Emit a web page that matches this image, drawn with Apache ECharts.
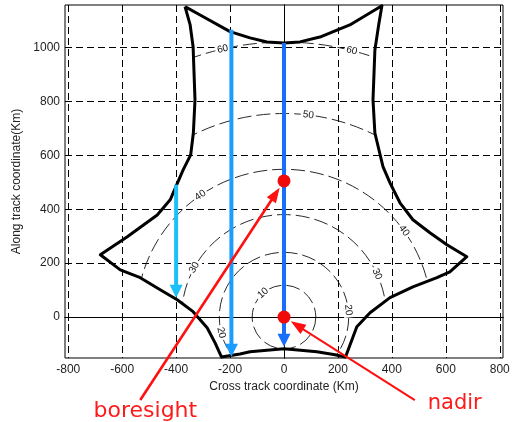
<!DOCTYPE html>
<html>
<head>
<meta charset="utf-8">
<script src="https://cdn.jsdelivr.net/npm/echarts@6/dist/echarts.min.js"></script>
<style>
  html, body { margin: 0; padding: 0; background: #fff; }
  #chart { width: 520px; height: 422px; }
</style>
</head>
<body>
<div id="chart"></div>
<script>
// ---- Data (km) ---------------------------------------------------------
// Swath footprint outline: [cross-track, along-track]
const footprintOutline = [
  [-367, 1152], [-311, 1121], [-200, 1059], [-126, 1036], [-63, 1021], [0, 1017],
  [59, 1021], [133, 1039], [244, 1084], [363, 1155],
  [351, 1084], [337, 991], [330, 806], [337, 683], [367, 558], [393, 498],
  [430, 424], [478, 361], [541, 313], [604, 268], [678, 224],
  [615, 168], [567, 146], [478, 112], [393, 72], [319, 16], [270, -36], [228, -148],
  [189, -140], [122, -129], [0, -118], [-126, -129], [-163, -137], [-232, -148],
  [-256, -95], [-285, -40], [-337, 20], [-396, 64], [-459, 101], [-533, 146],
  [-607, 175], [-681, 231],
  [-581, 298], [-470, 379], [-422, 435], [-374, 546], [-346, 602], [-336, 684],
  [-330, 806], [-337, 1003], [-348, 1084], [-367, 1152]
];

// Incidence-angle contours (deg) and their ground range from nadir (km)
const contourLevels = [10, 20, 30, 40, 50, 60];
const contourRadii  = [118, 240, 380, 548, 755, 1020];

// Scan lines: cross-track position, start and end along-track (km)
const beamX     = [-400, -195, 0];
const beamStart = [491, 1066, 1017];
const beamEnd   = [72, -147, -110];

// Marked points
const boresight = [0, 505];
const nadir     = [0, 0];

// Axis ticks
const xTicks = [-800, -600, -400, -200, 0, 200, 400, 600, 800];
const yTicks = [0, 200, 400, 600, 800, 1000];

// ---- Layout / style ----------------------------------------------------
const FONT = 'Liberation Sans, Arial, sans-serif';
const beamColors = ['#1CC0F8', '#1B9CFF', '#166EFA'];

// where each contour carries its level label [level, x, y] (km)
const contourLabelSpots = [
  [10, -78, 89], [20, -237, -59], [20, 237, 26], [30, -337, 186], [30, 337, 156],
  [40, -311, 453], [40, 437, 315], [50, 89, 742], [60, -229, 1002], [60, 252, 991]
];

// callout arrows: arrow tail and text centre in km (below the axes)
const callouts = [
  { text: 'boresight', target: boresight, tail: [-533, -308], textAt: [-514, -350], width: 2.6, size: 22 },
  { text: 'nadir',     target: nadir,     tail: [485, -308],  textAt: [633, -321],  width: 2,   size: 21 }
];

const chart = echarts.init(document.getElementById('chart'), null, { renderer: 'canvas' });

function sideAxis(pos, ticks, min, max) {
  return {
    type: 'value', min: min, max: max, position: pos,
    axisLine: { show: true, lineStyle: { color: '#000', width: 1 } },
    axisTick: { show: true, inside: true, length: 4, customValues: ticks, lineStyle: { color: '#000' } },
    axisLabel: { show: false },
    splitLine: { show: false }
  };
}

const option = {
  animation: false,
  grid: { left: 65, top: 5, width: 438, height: 353, show: true, borderColor: '#000', borderWidth: 1 },
  xAxis: [
    {
      type: 'value', min: -812, max: 812, position: 'bottom',
      name: 'Cross track coordinate (Km)', nameLocation: 'middle', nameGap: 23,
      nameTextStyle: { color: '#222', fontSize: 12, fontFamily: FONT },
      axisLine: { show: true, lineStyle: { color: '#000', width: 1 } },
      axisTick: { show: true, inside: true, length: 4, customValues: xTicks, lineStyle: { color: '#000' } },
      axisLabel: { customValues: xTicks, color: '#222', fontSize: 12, fontFamily: FONT, margin: 6,
                   formatter: v => String(v) },
      splitLine: { show: true, lineStyle: { color: '#000', width: 1, type: [7, 4] } }
    },
    sideAxis('top', xTicks, -812, 812)
  ],
  yAxis: [
    {
      type: 'value', min: -152, max: 1158, position: 'left',
      name: 'Along track coordinate(Km)', nameLocation: 'middle', nameGap: 41,
      nameTextStyle: { color: '#222', fontSize: 12, fontFamily: FONT },
      axisLine: { show: true, lineStyle: { color: '#000', width: 1 } },
      axisTick: { show: true, inside: true, length: 4, customValues: yTicks, lineStyle: { color: '#000' } },
      axisLabel: { customValues: yTicks, color: '#222', fontSize: 12, fontFamily: FONT, margin: 5,
                   formatter: v => String(v) },
      splitLine: { show: true, lineStyle: { color: '#000', width: 1, type: [7, 4] } }
    },
    sideAxis('right', yTicks, -152, 1158)
  ],
  series: [
    // incidence-angle contours, clipped to the footprint
    {
      type: 'custom', silent: true, z: 2,
      data: contourLevels.map((lv, i) => [lv, contourRadii[i]]),
      renderItem: function (params, api) {
        const c = api.coord([0, 0]);
        const s = api.size([api.value(1), api.value(1)]);
        const clipPts = footprintOutline.map(p => api.coord(p));
        return {
          type: 'circle',
          shape: { cx: c[0], cy: c[1], r: (s[0] + s[1]) / 2 },
          clipPath: { type: 'polygon', shape: { points: clipPts } },
          style: { fill: null, stroke: '#111', lineWidth: 0.9, lineDash: [14, 5] }
        };
      }
    },
    // contour level labels, set along the contour
    {
      type: 'custom', silent: true, z: 3,
      data: contourLabelSpots,
      renderItem: function (params, api) {
        const lv = api.value(0);
        const r = contourRadii[contourLevels.indexOf(lv)];
        const phi = Math.atan2(api.value(2), api.value(1));
        const p = api.coord([r * Math.cos(phi), r * Math.sin(phi)]);
        let rot = phi - Math.PI / 2;
        while (rot > Math.PI / 2) rot -= Math.PI;
        while (rot <= -Math.PI / 2) rot += Math.PI;
        return {
          type: 'text', x: p[0], y: p[1], rotation: rot,
          style: {
            text: String(lv), fill: '#111', font: '10px ' + FONT,
            align: 'center', verticalAlign: 'middle',
            backgroundColor: '#fff', padding: [0, 2]
          }
        };
      }
    },
    // footprint outline
    {
      type: 'line', data: footprintOutline, symbol: 'none', silent: true, z: 4,
      lineStyle: { color: '#000', width: 3, join: 'round' }
    },
    // scan lines with arrowheads
    {
      type: 'custom', silent: true, z: 5,
      data: beamX.map((x, i) => [x, beamStart[i], beamEnd[i]]),
      renderItem: function (params, api) {
        const a = api.coord([api.value(0), api.value(1)]);
        const b = api.coord([api.value(0), api.value(2)]);
        const color = beamColors[params.dataIndex];
        const hl = 13, hw = 6.5;
        return {
          type: 'group',
          children: [
            { type: 'line', shape: { x1: a[0], y1: a[1], x2: b[0], y2: b[1] - hl + 2 },
              style: { stroke: color, lineWidth: 4 } },
            { type: 'polygon', shape: { points: [[b[0], b[1]], [b[0] - hw, b[1] - hl], [b[0] + hw, b[1] - hl]] },
              style: { fill: color } }
          ]
        };
      }
    },
    // boresight and nadir
    {
      type: 'scatter', data: [boresight, nadir], symbolSize: 13, silent: true, z: 6,
      itemStyle: { color: '#F00A0A', opacity: 1 }
    },
    // callouts
    {
      type: 'custom', silent: true, z: 7, clip: false,
      data: callouts.map(c => c.target),
      renderItem: function (params, api) {
        const c = callouts[params.dataIndex];
        const t = api.coord(c.target);
        const s = api.coord(c.tail);
        const tp = api.coord(c.textAt);
        const dx = t[0] - s[0], dy = t[1] - s[1];
        const len = Math.sqrt(dx * dx + dy * dy);
        const ux = dx / len, uy = dy / len;
        const tip = [t[0] - ux * 8, t[1] - uy * 8];
        const hl = 15, hw = 5.5;
        const base = [tip[0] - ux * hl, tip[1] - uy * hl];
        return {
          type: 'group',
          children: [
            { type: 'line', shape: { x1: s[0], y1: s[1], x2: base[0] + ux * 2, y2: base[1] + uy * 2 },
              style: { stroke: '#FF1010', lineWidth: c.width } },
            { type: 'polygon', shape: { points: [tip, [base[0] - uy * hw, base[1] + ux * hw], [base[0] + uy * hw, base[1] - ux * hw]] },
              style: { fill: '#FF1010' } },
            { type: 'text', x: tp[0], y: tp[1],
              style: { text: c.text, fill: '#FF1A1A', font: c.size + 'px DejaVu Sans, Verdana, sans-serif',
                       align: 'center', verticalAlign: 'middle' } }
          ]
        };
      }
    }
  ]
};

chart.setOption(option);
</script>
</body>
</html>
